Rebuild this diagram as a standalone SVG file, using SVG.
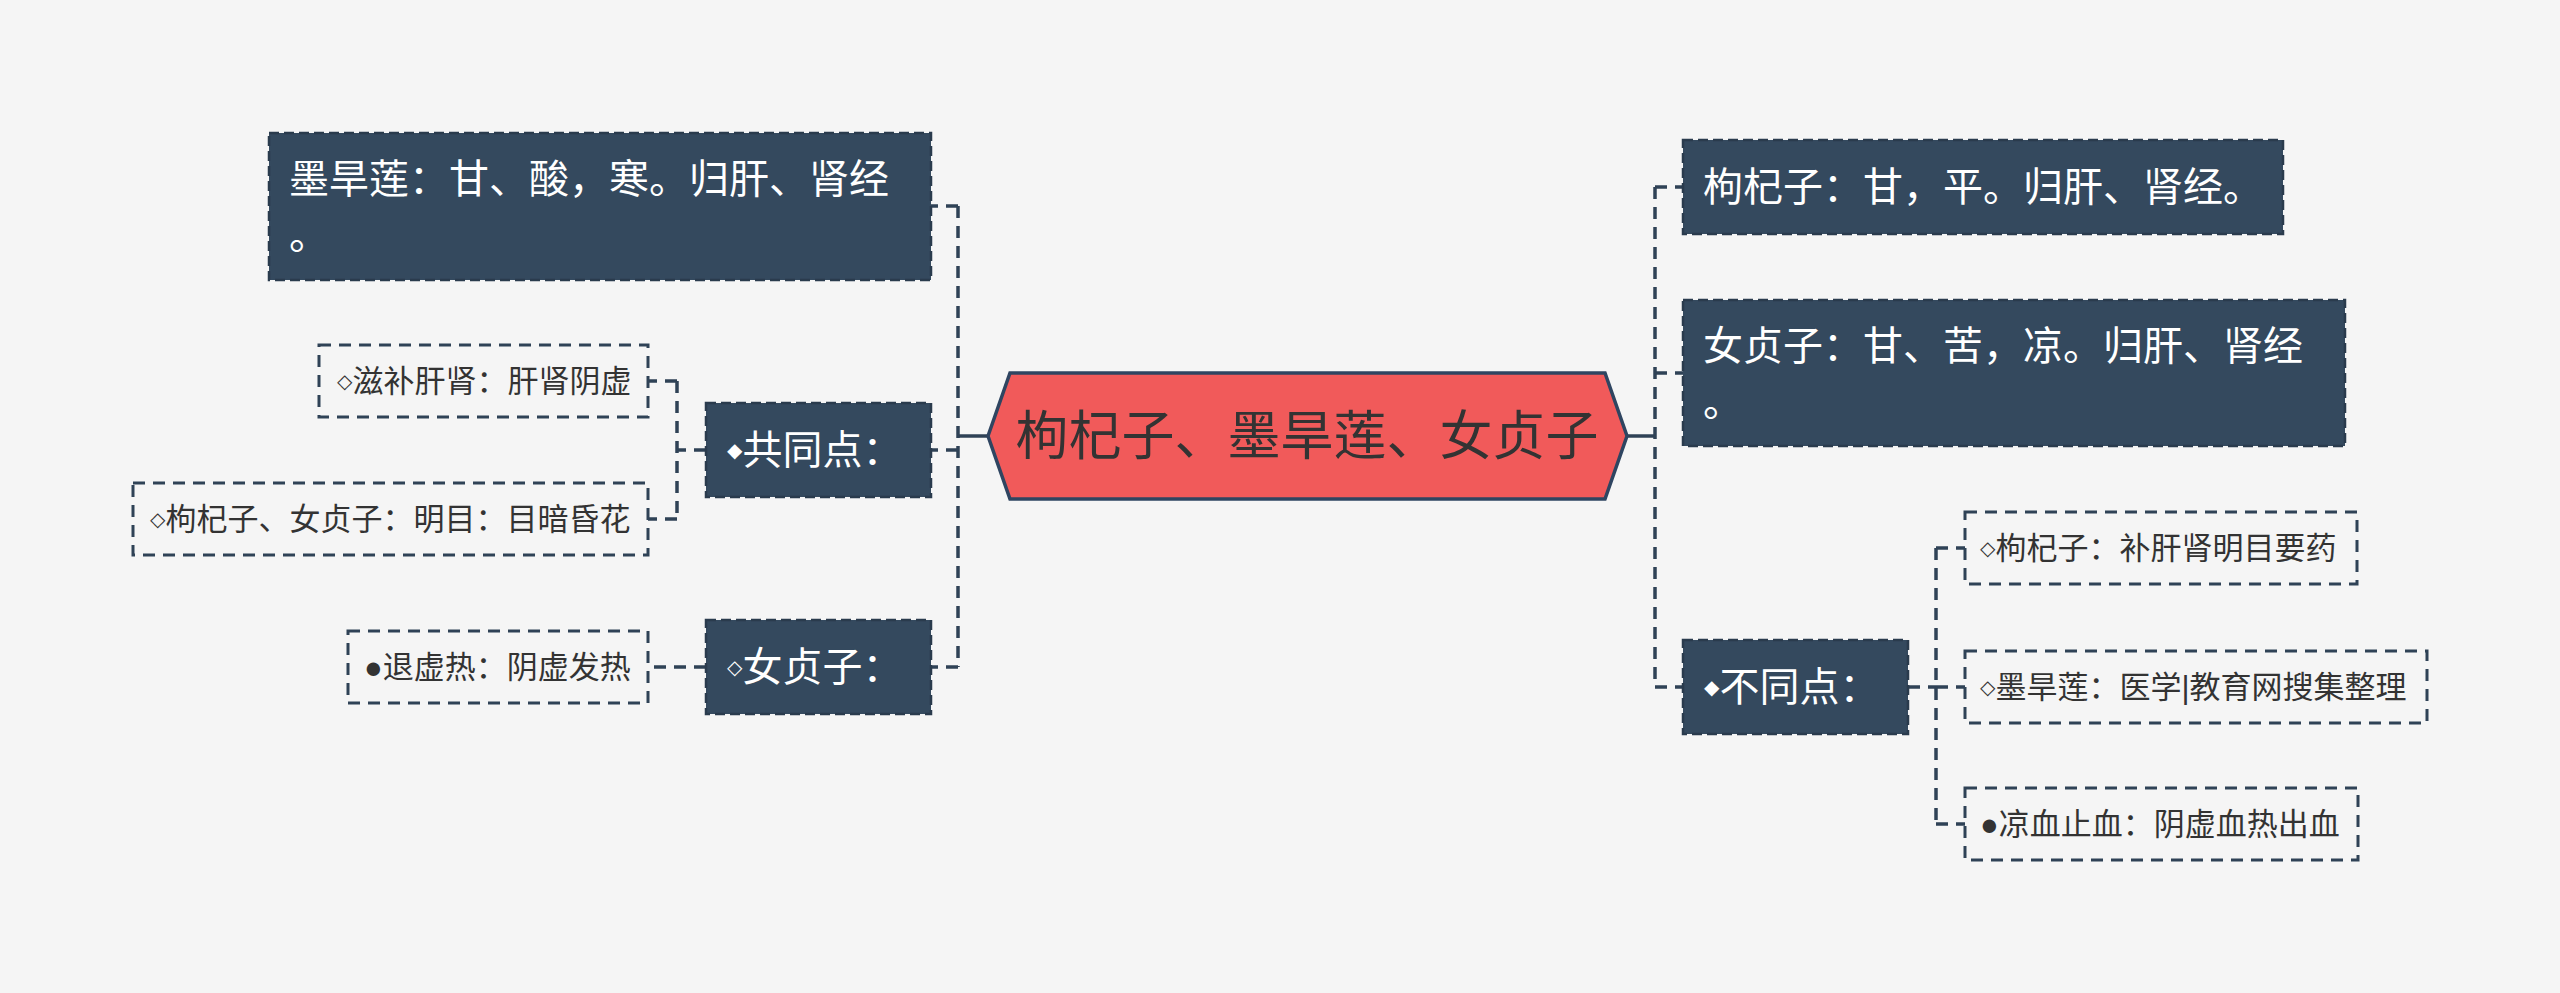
<svg xmlns="http://www.w3.org/2000/svg" width="2560" height="993" viewBox="0 0 2560 993">
<style>
text{font-family:"Liberation Sans","Noto Sans CJK SC",sans-serif;dominant-baseline:central}
.l1 rect{fill:#34495e;stroke:#2a3b4d;stroke-width:2.5;stroke-dasharray:10 5}
.l1 text{fill:#ffffff;font-size:40px}
.sub rect{fill:none;stroke:#2f4256;stroke-width:3;stroke-dasharray:12 8}
.sub text{fill:#333333;font-size:31px}
.mk{font-family:"DejaVu Sans",sans-serif;font-size:20px}
.conn path{fill:none;stroke:#2f4256;stroke-width:3.5;stroke-dasharray:12 8}
.conn .solid{stroke-dasharray:none}
</style>
<rect x="0" y="0" width="2560" height="993" fill="#f5f5f5"/>
<g class="conn" id="connectors">
<path class="solid" d="M988 436H958"/>
<path d="M958 206V667"/>
<path d="M958 206H931M958 450H931M958 667H931"/>
<path d="M706 450H677M677 381V519M677 381H648M677 519H648"/>
<path d="M706 667H648"/>
<path class="solid" d="M1627 436H1655"/>
<path d="M1655 187V687"/>
<path d="M1655 187H1683M1655 373H1683M1655 687H1683"/>
<path d="M1908 687H1936M1936 548V824M1936 548H1965M1936 687H1965M1936 824H1965"/>
</g>
<g id="center">
<polygon points="988,436 1010,373 1605,373 1627,436 1605,499 1010,499" fill="#f15a5a" stroke="#2f4561" stroke-width="3.5"/>
<text x="1307" y="436" text-anchor="middle" font-size="53" fill="#333333">枸杞子、墨旱莲、女贞子</text>
</g>
<g id="n-mohanlian" class="l1">
<rect x="269" y="133" width="662" height="147"/>
<text x="289" y="179">墨旱莲：甘、酸，寒。归肝、肾经</text>
<text x="289" y="235">。</text>
</g>
<g id="n-gongtong" class="l1">
<rect x="706" y="403" width="225" height="94"/>
<text x="727" y="450"><tspan class="mk" font-size="26px">◆</tspan>共同点：</text>
</g>
<g id="n-nvzhenzi-l" class="l1">
<rect x="706" y="620" width="225" height="94"/>
<text x="727" y="667"><tspan class="mk" font-size="26px">◇</tspan>女贞子：</text>
</g>
<g id="s-zibu" class="sub">
<rect x="319" y="345" width="329" height="72"/>
<text x="337" y="381"><tspan class="mk">◇</tspan>滋补肝肾：肝肾阴虚</text>
</g>
<g id="s-mingmu" class="sub">
<rect x="133" y="483" width="515" height="72"/>
<text x="150" y="519"><tspan class="mk">◇</tspan>枸杞子、女贞子：明目：目暗昏花</text>
</g>
<g id="s-tuixure" class="sub">
<rect x="348" y="631" width="300" height="72"/>
<text x="364" y="667">●退虚热：阴虚发热</text>
</g>
<g id="n-gouqizi" class="l1">
<rect x="1683" y="140" width="600" height="94"/>
<text x="1703" y="187">枸杞子：甘，平。归肝、肾经。</text>
</g>
<g id="n-nvzhenzi-r" class="l1">
<rect x="1683" y="300" width="662" height="146"/>
<text x="1703" y="346">女贞子：甘、苦，凉。归肝、肾经</text>
<text x="1703" y="402">。</text>
</g>
<g id="n-butong" class="l1">
<rect x="1683" y="640" width="225" height="94"/>
<text x="1704" y="687"><tspan class="mk" font-size="26px">◆</tspan>不同点：</text>
</g>
<g id="s-gouqi" class="sub">
<rect x="1965" y="512" width="392" height="72"/>
<text x="1980" y="548"><tspan class="mk">◇</tspan>枸杞子：补肝肾明目要药</text>
</g>
<g id="s-mohan" class="sub">
<rect x="1965" y="651" width="462" height="72"/>
<text x="1980" y="687"><tspan class="mk">◇</tspan>墨旱莲：医学|教育网搜集整理</text>
</g>
<g id="s-liangxue" class="sub">
<rect x="1965" y="788" width="393" height="72"/>
<text x="1980" y="824">●凉血止血：阴虚血热出血</text>
</g>
</svg>
